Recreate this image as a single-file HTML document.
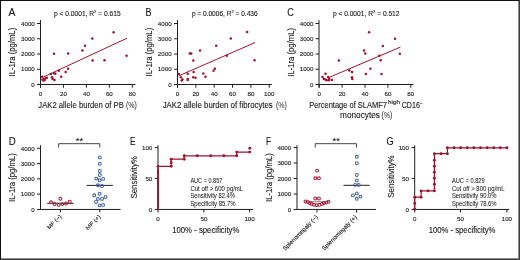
<!DOCTYPE html>
<html><head><meta charset="utf-8"><style>
html,body{margin:0;padding:0;background:#fff;}
body{width:520px;height:260px;overflow:hidden;position:relative;}
svg{position:absolute;left:0;top:0;will-change:transform;}
svg text{font-family:"Liberation Sans", sans-serif;fill:#1a1a1a;stroke:#1a1a1a;stroke-width:0.12px;}
.bt{position:absolute;left:0;top:0;width:520px;height:1px;background:#111;}
.bl{position:absolute;left:0;top:0;width:1px;height:260px;background:#111;}
.br1{position:absolute;left:518px;top:1px;width:1px;height:257px;background:#8c8c8c;}
.br2{position:absolute;left:519px;top:0;width:1px;height:260px;background:#3c3c3c;}
.bb1{position:absolute;left:1px;top:258px;width:518px;height:1px;background:#8c8c8c;}
.bb2{position:absolute;left:0;top:259px;width:520px;height:1px;background:#3c3c3c;}
</style></head><body>
<svg width="520" height="260" viewBox="0 0 520 260">
<text x="8.6" y="15.5" font-size="10.3" text-anchor="start" textLength="6.9" lengthAdjust="spacingAndGlyphs" >A</text>
<text x="54.0" y="15.5" font-size="6.9" text-anchor="start" textLength="66.7" lengthAdjust="spacingAndGlyphs" >p &lt; 0.0001, R<tspan font-size="4.4" dy="-2.9">2</tspan><tspan dy="2.9"> = 0.615</tspan></text>
<line x1="40.5" y1="20.1" x2="40.5" y2="87.7" stroke="#1e1e1e" stroke-width="1.0"/>
<line x1="37.1" y1="23.5" x2="40.5" y2="23.5" stroke="#1e1e1e" stroke-width="1.0"/>
<text x="34.8" y="25.7" font-size="6.2" text-anchor="end" >4000</text>
<line x1="37.1" y1="38.75" x2="40.5" y2="38.75" stroke="#1e1e1e" stroke-width="1.0"/>
<text x="34.8" y="40.95" font-size="6.2" text-anchor="end" >3000</text>
<line x1="37.1" y1="54.0" x2="40.5" y2="54.0" stroke="#1e1e1e" stroke-width="1.0"/>
<text x="34.8" y="56.2" font-size="6.2" text-anchor="end" >2000</text>
<line x1="37.1" y1="69.25" x2="40.5" y2="69.25" stroke="#1e1e1e" stroke-width="1.0"/>
<text x="34.8" y="71.45" font-size="6.2" text-anchor="end" >1000</text>
<line x1="37.1" y1="84.5" x2="40.5" y2="84.5" stroke="#1e1e1e" stroke-width="1.0"/>
<text x="34.8" y="86.7" font-size="6.2" text-anchor="end" >0</text>
<line x1="40.5" y1="84.5" x2="135.4" y2="84.5" stroke="#1e1e1e" stroke-width="1.0"/>
<line x1="40.5" y1="84.5" x2="40.5" y2="87.7" stroke="#1e1e1e" stroke-width="1.0"/>
<text x="40.5" y="96.0" font-size="6.2" text-anchor="middle" >0</text>
<line x1="63.45" y1="84.5" x2="63.45" y2="87.7" stroke="#1e1e1e" stroke-width="1.0"/>
<text x="63.45" y="96.0" font-size="6.2" text-anchor="middle" >20</text>
<line x1="86.4" y1="84.5" x2="86.4" y2="87.7" stroke="#1e1e1e" stroke-width="1.0"/>
<text x="86.4" y="96.0" font-size="6.2" text-anchor="middle" >40</text>
<line x1="109.35" y1="84.5" x2="109.35" y2="87.7" stroke="#1e1e1e" stroke-width="1.0"/>
<text x="109.35" y="96.0" font-size="6.2" text-anchor="middle" >60</text>
<line x1="132.3" y1="84.5" x2="132.3" y2="87.7" stroke="#1e1e1e" stroke-width="1.0"/>
<text x="132.3" y="96.0" font-size="6.2" text-anchor="middle" >80</text>
<text x="38.3" y="107.8" font-size="8.4" text-anchor="start" textLength="85.5" lengthAdjust="spacingAndGlyphs" >JAK2 allele burden of PB</text>
<text x="125.9" y="107.8" font-size="8.4" textLength="10.9" lengthAdjust="spacingAndGlyphs" style="fill:#222;stroke:none">(%)</text>
<text transform="translate(14.9,76.5) rotate(-90)" font-size="8.2" text-anchor="start" textLength="48.7" lengthAdjust="spacingAndGlyphs">IL-1ra (pg/mL)</text>
<line x1="41.8" y1="77.8" x2="127" y2="38.2" stroke="#a0122c" stroke-width="1.0"/>
<circle cx="113.6" cy="32.3" r="1.25" fill="#a0122c"/>
<circle cx="92.3" cy="38.5" r="1.25" fill="#a0122c"/>
<circle cx="85" cy="45.8" r="1.25" fill="#a0122c"/>
<circle cx="82.4" cy="50.6" r="1.25" fill="#a0122c"/>
<circle cx="54" cy="53.8" r="1.25" fill="#a0122c"/>
<circle cx="68.1" cy="53.6" r="1.25" fill="#a0122c"/>
<circle cx="92.6" cy="60.6" r="1.25" fill="#a0122c"/>
<circle cx="104.5" cy="60.3" r="1.25" fill="#a0122c"/>
<circle cx="126.6" cy="55.7" r="1.25" fill="#a0122c"/>
<circle cx="68" cy="68.8" r="1.25" fill="#a0122c"/>
<circle cx="65.6" cy="71.9" r="1.25" fill="#a0122c"/>
<circle cx="58.8" cy="70.8" r="1.25" fill="#a0122c"/>
<circle cx="61.2" cy="76.8" r="1.25" fill="#a0122c"/>
<circle cx="55.3" cy="73.8" r="1.25" fill="#a0122c"/>
<circle cx="54.2" cy="73.2" r="1.25" fill="#a0122c"/>
<circle cx="50.9" cy="74" r="1.25" fill="#a0122c"/>
<circle cx="52" cy="77.3" r="1.25" fill="#a0122c"/>
<circle cx="52.6" cy="78.9" r="1.25" fill="#a0122c"/>
<circle cx="54.5" cy="80" r="1.25" fill="#a0122c"/>
<circle cx="42.1" cy="76.7" r="1.25" fill="#a0122c"/>
<circle cx="43.4" cy="80.5" r="1.25" fill="#a0122c"/>
<circle cx="44.7" cy="80" r="1.25" fill="#a0122c"/>
<circle cx="45.8" cy="78.3" r="1.25" fill="#a0122c"/>
<circle cx="46.8" cy="77.8" r="1.25" fill="#a0122c"/>
<circle cx="44" cy="79" r="1.25" fill="#a0122c"/>
<circle cx="42.5" cy="79.5" r="1.25" fill="#a0122c"/>
<text x="145.5" y="15.5" font-size="10.3" text-anchor="start" textLength="6.0" lengthAdjust="spacingAndGlyphs" >B</text>
<text x="191.9" y="15.5" font-size="6.9" text-anchor="start" textLength="65.7" lengthAdjust="spacingAndGlyphs" >p = 0.0006, R<tspan font-size="4.4" dy="-2.9">2</tspan><tspan dy="2.9"> = 0.436</tspan></text>
<line x1="177.5" y1="20.1" x2="177.5" y2="87.7" stroke="#1e1e1e" stroke-width="1.0"/>
<line x1="174.1" y1="23.5" x2="177.5" y2="23.5" stroke="#1e1e1e" stroke-width="1.0"/>
<text x="171.6" y="25.7" font-size="6.2" text-anchor="end" >4000</text>
<line x1="174.1" y1="38.75" x2="177.5" y2="38.75" stroke="#1e1e1e" stroke-width="1.0"/>
<text x="171.6" y="40.95" font-size="6.2" text-anchor="end" >3000</text>
<line x1="174.1" y1="54.0" x2="177.5" y2="54.0" stroke="#1e1e1e" stroke-width="1.0"/>
<text x="171.6" y="56.2" font-size="6.2" text-anchor="end" >2000</text>
<line x1="174.1" y1="69.25" x2="177.5" y2="69.25" stroke="#1e1e1e" stroke-width="1.0"/>
<text x="171.6" y="71.45" font-size="6.2" text-anchor="end" >1000</text>
<line x1="174.1" y1="84.5" x2="177.5" y2="84.5" stroke="#1e1e1e" stroke-width="1.0"/>
<text x="171.6" y="86.7" font-size="6.2" text-anchor="end" >0</text>
<line x1="177.5" y1="84.5" x2="271.9" y2="84.5" stroke="#1e1e1e" stroke-width="1.0"/>
<line x1="177.5" y1="84.5" x2="177.5" y2="87.7" stroke="#1e1e1e" stroke-width="1.0"/>
<text x="177.5" y="96.0" font-size="6.2" text-anchor="middle" >0</text>
<line x1="195.85" y1="84.5" x2="195.85" y2="87.7" stroke="#1e1e1e" stroke-width="1.0"/>
<text x="195.85" y="96.0" font-size="6.2" text-anchor="middle" >20</text>
<line x1="214.2" y1="84.5" x2="214.2" y2="87.7" stroke="#1e1e1e" stroke-width="1.0"/>
<text x="214.2" y="96.0" font-size="6.2" text-anchor="middle" >40</text>
<line x1="232.55" y1="84.5" x2="232.55" y2="87.7" stroke="#1e1e1e" stroke-width="1.0"/>
<text x="232.55" y="96.0" font-size="6.2" text-anchor="middle" >60</text>
<line x1="250.9" y1="84.5" x2="250.9" y2="87.7" stroke="#1e1e1e" stroke-width="1.0"/>
<text x="250.9" y="96.0" font-size="6.2" text-anchor="middle" >80</text>
<line x1="269.25" y1="84.5" x2="269.25" y2="87.7" stroke="#1e1e1e" stroke-width="1.0"/>
<text x="269.25" y="96.0" font-size="6.2" text-anchor="middle" >100</text>
<text x="162.7" y="107.8" font-size="8.4" text-anchor="start" textLength="110.1" lengthAdjust="spacingAndGlyphs" >JAK2 allele burden of fibrocytes</text>
<text x="275.9" y="107.8" font-size="8.4" textLength="11.0" lengthAdjust="spacingAndGlyphs" style="fill:#222;stroke:none">(%)</text>
<text transform="translate(152.0,76.5) rotate(-90)" font-size="8.2" text-anchor="start" textLength="48.7" lengthAdjust="spacingAndGlyphs">IL-1ra (pg/mL)</text>
<line x1="178.8" y1="75.8" x2="255" y2="42.6" stroke="#a0122c" stroke-width="1.0"/>
<circle cx="247.2" cy="32" r="1.25" fill="#a0122c"/>
<circle cx="230.8" cy="38.5" r="1.25" fill="#a0122c"/>
<circle cx="216.2" cy="45.8" r="1.25" fill="#a0122c"/>
<circle cx="200" cy="50.6" r="1.25" fill="#a0122c"/>
<circle cx="189.8" cy="53.6" r="1.25" fill="#a0122c"/>
<circle cx="191.2" cy="53.6" r="1.25" fill="#a0122c"/>
<circle cx="193.3" cy="60.6" r="1.25" fill="#a0122c"/>
<circle cx="226.8" cy="55.7" r="1.25" fill="#a0122c"/>
<circle cx="254.5" cy="60.3" r="1.25" fill="#a0122c"/>
<circle cx="214.9" cy="68.7" r="1.25" fill="#a0122c"/>
<circle cx="213.5" cy="70.8" r="1.25" fill="#a0122c"/>
<circle cx="203.3" cy="73.5" r="1.25" fill="#a0122c"/>
<circle cx="205.5" cy="76.8" r="1.25" fill="#a0122c"/>
<circle cx="193.6" cy="71.9" r="1.25" fill="#a0122c"/>
<circle cx="193.3" cy="77.3" r="1.25" fill="#a0122c"/>
<circle cx="195.5" cy="77.8" r="1.25" fill="#a0122c"/>
<circle cx="187.7" cy="73.8" r="1.25" fill="#a0122c"/>
<circle cx="187.7" cy="80" r="1.25" fill="#a0122c"/>
<circle cx="182.5" cy="79.5" r="1.25" fill="#a0122c"/>
<circle cx="181.7" cy="80.5" r="1.25" fill="#a0122c"/>
<circle cx="180.9" cy="77.3" r="1.25" fill="#a0122c"/>
<circle cx="178.8" cy="74" r="1.25" fill="#a0122c"/>
<circle cx="187.7" cy="79" r="1.25" fill="#a0122c"/>
<text x="287.3" y="15.5" font-size="10.3" text-anchor="start" textLength="6.6" lengthAdjust="spacingAndGlyphs" >C</text>
<text x="332.9" y="15.5" font-size="6.9" text-anchor="start" textLength="66.6" lengthAdjust="spacingAndGlyphs" >p &lt; 0.0001, R<tspan font-size="4.4" dy="-2.9">2</tspan><tspan dy="2.9"> = 0.512</tspan></text>
<line x1="319.0" y1="20.1" x2="319.0" y2="87.7" stroke="#1e1e1e" stroke-width="1.0"/>
<line x1="315.6" y1="23.5" x2="319.0" y2="23.5" stroke="#1e1e1e" stroke-width="1.0"/>
<text x="313.5" y="25.7" font-size="6.2" text-anchor="end" >4000</text>
<line x1="315.6" y1="38.75" x2="319.0" y2="38.75" stroke="#1e1e1e" stroke-width="1.0"/>
<text x="313.5" y="40.95" font-size="6.2" text-anchor="end" >3000</text>
<line x1="315.6" y1="54.0" x2="319.0" y2="54.0" stroke="#1e1e1e" stroke-width="1.0"/>
<text x="313.5" y="56.2" font-size="6.2" text-anchor="end" >2000</text>
<line x1="315.6" y1="69.25" x2="319.0" y2="69.25" stroke="#1e1e1e" stroke-width="1.0"/>
<text x="313.5" y="71.45" font-size="6.2" text-anchor="end" >1000</text>
<line x1="315.6" y1="84.5" x2="319.0" y2="84.5" stroke="#1e1e1e" stroke-width="1.0"/>
<text x="313.5" y="86.7" font-size="6.2" text-anchor="end" >0</text>
<line x1="319.0" y1="84.5" x2="413.5" y2="84.5" stroke="#1e1e1e" stroke-width="1.0"/>
<line x1="319.2" y1="84.5" x2="319.2" y2="87.7" stroke="#1e1e1e" stroke-width="1.0"/>
<text x="319.2" y="96.0" font-size="6.2" text-anchor="middle" >0</text>
<line x1="342.09999999999997" y1="84.5" x2="342.09999999999997" y2="87.7" stroke="#1e1e1e" stroke-width="1.0"/>
<text x="342.09999999999997" y="96.0" font-size="6.2" text-anchor="middle" >20</text>
<line x1="365.0" y1="84.5" x2="365.0" y2="87.7" stroke="#1e1e1e" stroke-width="1.0"/>
<text x="365.0" y="96.0" font-size="6.2" text-anchor="middle" >40</text>
<line x1="387.9" y1="84.5" x2="387.9" y2="87.7" stroke="#1e1e1e" stroke-width="1.0"/>
<text x="387.9" y="96.0" font-size="6.2" text-anchor="middle" >60</text>
<line x1="410.79999999999995" y1="84.5" x2="410.79999999999995" y2="87.7" stroke="#1e1e1e" stroke-width="1.0"/>
<text x="410.79999999999995" y="96.0" font-size="6.2" text-anchor="middle" >80</text>
<text x="309.2" y="107.8" font-size="8.4" text-anchor="start" textLength="77.7" lengthAdjust="spacingAndGlyphs" >Percentage of SLAMF7</text>
<text x="388.0" y="104.3" font-size="6.2" text-anchor="start" textLength="11.9" lengthAdjust="spacingAndGlyphs" >high</text>
<text x="401.7" y="107.8" font-size="8.4" text-anchor="start" textLength="18.2" lengthAdjust="spacingAndGlyphs" >CD16</text>
<text x="420.2" y="105.3" font-size="5.6" text-anchor="start" textLength="2.2" lengthAdjust="spacingAndGlyphs" >−</text>
<text x="340.1" y="117.5" font-size="8.4" text-anchor="start" textLength="39.8" lengthAdjust="spacingAndGlyphs" >monocytes</text>
<text x="381.6" y="117.5" font-size="8.4" textLength="10.7" lengthAdjust="spacingAndGlyphs" style="fill:#222;stroke:none">(%)</text>
<text transform="translate(293.8,76.7) rotate(-90)" font-size="8.2" text-anchor="start" textLength="48.7" lengthAdjust="spacingAndGlyphs">IL-1ra (pg/mL)</text>
<line x1="328.2" y1="77.8" x2="400.4" y2="47.1" stroke="#a0122c" stroke-width="1.0"/>
<circle cx="369.1" cy="32.3" r="1.25" fill="#a0122c"/>
<circle cx="395" cy="38.8" r="1.25" fill="#a0122c"/>
<circle cx="382.8" cy="46" r="1.25" fill="#a0122c"/>
<circle cx="364" cy="50.6" r="1.25" fill="#a0122c"/>
<circle cx="365.3" cy="53.6" r="1.25" fill="#a0122c"/>
<circle cx="399.8" cy="53.8" r="1.25" fill="#a0122c"/>
<circle cx="379.3" cy="55.7" r="1.25" fill="#a0122c"/>
<circle cx="380.7" cy="60.3" r="1.25" fill="#a0122c"/>
<circle cx="338.9" cy="60.6" r="1.25" fill="#a0122c"/>
<circle cx="370.4" cy="68.7" r="1.25" fill="#a0122c"/>
<circle cx="365.9" cy="74.1" r="1.25" fill="#a0122c"/>
<circle cx="381.5" cy="74.1" r="1.25" fill="#a0122c"/>
<circle cx="349.3" cy="70.5" r="1.25" fill="#a0122c"/>
<circle cx="352" cy="72.1" r="1.25" fill="#a0122c"/>
<circle cx="352" cy="77.3" r="1.25" fill="#a0122c"/>
<circle cx="352.3" cy="78.9" r="1.25" fill="#a0122c"/>
<circle cx="325.5" cy="73.8" r="1.25" fill="#a0122c"/>
<circle cx="322.5" cy="77" r="1.25" fill="#a0122c"/>
<circle cx="323.9" cy="78.9" r="1.25" fill="#a0122c"/>
<circle cx="325.5" cy="79.6" r="1.25" fill="#a0122c"/>
<circle cx="326.6" cy="80.3" r="1.25" fill="#a0122c"/>
<circle cx="328.2" cy="77" r="1.25" fill="#a0122c"/>
<circle cx="328.8" cy="80.3" r="1.25" fill="#a0122c"/>
<circle cx="329.3" cy="78.9" r="1.25" fill="#a0122c"/>
<circle cx="332" cy="80" r="1.25" fill="#a0122c"/>
<text x="8.8" y="144.9" font-size="10.3" text-anchor="start" textLength="7.0" lengthAdjust="spacingAndGlyphs" >D</text>
<line x1="40.5" y1="145.2" x2="40.5" y2="209.45" stroke="#1e1e1e" stroke-width="1.0"/>
<line x1="37.1" y1="148.3" x2="40.5" y2="148.3" stroke="#1e1e1e" stroke-width="1.0"/>
<text x="34.6" y="150.5" font-size="6.2" text-anchor="end" >4000</text>
<line x1="37.1" y1="163.59" x2="40.5" y2="163.59" stroke="#1e1e1e" stroke-width="1.0"/>
<text x="34.6" y="165.79" font-size="6.2" text-anchor="end" >3000</text>
<line x1="37.1" y1="178.88" x2="40.5" y2="178.88" stroke="#1e1e1e" stroke-width="1.0"/>
<text x="34.6" y="181.07999999999998" font-size="6.2" text-anchor="end" >2000</text>
<line x1="37.1" y1="194.17000000000002" x2="40.5" y2="194.17000000000002" stroke="#1e1e1e" stroke-width="1.0"/>
<text x="34.6" y="196.37" font-size="6.2" text-anchor="end" >1000</text>
<line x1="37.1" y1="209.46" x2="40.5" y2="209.46" stroke="#1e1e1e" stroke-width="1.0"/>
<text x="34.6" y="211.66" font-size="6.2" text-anchor="end" >0</text>
<line x1="40.5" y1="209.45" x2="120.5" y2="209.45" stroke="#1e1e1e" stroke-width="1.0"/>
<line x1="60.4" y1="209.45" x2="60.4" y2="212.4" stroke="#1e1e1e" stroke-width="1.0"/>
<line x1="99.8" y1="209.45" x2="99.8" y2="212.4" stroke="#1e1e1e" stroke-width="1.0"/>
<text transform="translate(14.9,202.0) rotate(-90)" font-size="8.2" text-anchor="start" textLength="48.7" lengthAdjust="spacingAndGlyphs">IL-1ra (pg/mL)</text>
<path d="M58.6 147.5 V143.7 H99.8 V147.5" fill="none" stroke="#444" stroke-width="1.0"/>
<text x="79.4" y="144.0" font-size="9.2" text-anchor="middle" >**</text>
<line x1="47.2" y1="203.3" x2="73.7" y2="203.3" stroke="#1e1e1e" stroke-width="1.0"/>
<line x1="86.7" y1="185.4" x2="112.9" y2="185.4" stroke="#1e1e1e" stroke-width="1.0"/>
<circle cx="60.4" cy="198.8" r="1.45" fill="none" stroke="#a8203a" stroke-width="1.05"/>
<circle cx="51.0" cy="202.3" r="1.45" fill="none" stroke="#a8203a" stroke-width="1.05"/>
<circle cx="54.6" cy="204.0" r="1.45" fill="none" stroke="#a8203a" stroke-width="1.05"/>
<circle cx="58.6" cy="204.9" r="1.45" fill="none" stroke="#a8203a" stroke-width="1.05"/>
<circle cx="62.3" cy="204.1" r="1.45" fill="none" stroke="#a8203a" stroke-width="1.05"/>
<circle cx="66.0" cy="203.5" r="1.45" fill="none" stroke="#a8203a" stroke-width="1.05"/>
<circle cx="69.7" cy="201.7" r="1.45" fill="none" stroke="#a8203a" stroke-width="1.05"/>
<circle cx="99.8" cy="157.4" r="1.45" fill="none" stroke="#42639a" stroke-width="1.05"/>
<circle cx="99.8" cy="163.7" r="1.45" fill="none" stroke="#42639a" stroke-width="1.05"/>
<circle cx="99.8" cy="171" r="1.45" fill="none" stroke="#42639a" stroke-width="1.05"/>
<circle cx="99.8" cy="175" r="1.45" fill="none" stroke="#42639a" stroke-width="1.05"/>
<circle cx="96.2" cy="178.6" r="1.45" fill="none" stroke="#42639a" stroke-width="1.05"/>
<circle cx="99.6" cy="180.3" r="1.45" fill="none" stroke="#42639a" stroke-width="1.05"/>
<circle cx="103.1" cy="178.9" r="1.45" fill="none" stroke="#42639a" stroke-width="1.05"/>
<circle cx="97.9" cy="185.3" r="1.45" fill="none" stroke="#42639a" stroke-width="1.05"/>
<circle cx="102" cy="186" r="1.45" fill="none" stroke="#42639a" stroke-width="1.05"/>
<circle cx="99.6" cy="193.7" r="1.45" fill="none" stroke="#42639a" stroke-width="1.05"/>
<circle cx="94.3" cy="195.3" r="1.45" fill="none" stroke="#42639a" stroke-width="1.05"/>
<circle cx="105.5" cy="197" r="1.45" fill="none" stroke="#42639a" stroke-width="1.05"/>
<circle cx="97.9" cy="198.9" r="1.45" fill="none" stroke="#42639a" stroke-width="1.05"/>
<circle cx="102" cy="198.9" r="1.45" fill="none" stroke="#42639a" stroke-width="1.05"/>
<circle cx="96" cy="202" r="1.45" fill="none" stroke="#42639a" stroke-width="1.05"/>
<circle cx="99.6" cy="205.4" r="1.45" fill="none" stroke="#42639a" stroke-width="1.05"/>
<circle cx="103.1" cy="204.9" r="1.45" fill="none" stroke="#42639a" stroke-width="1.05"/>
<text transform="translate(61.8,217.0) rotate(-45)" font-size="5.4" text-anchor="end" textLength="17.6" lengthAdjust="spacingAndGlyphs">MF (−)</text>
<text transform="translate(101.0,217.0) rotate(-45)" font-size="5.4" text-anchor="end" textLength="18.6" lengthAdjust="spacingAndGlyphs">MF (+)</text>
<text x="130.0" y="145.0" font-size="10.3" text-anchor="start" textLength="5.5" lengthAdjust="spacingAndGlyphs" >E</text>
<line x1="158.0" y1="145.2" x2="158.0" y2="209.45" stroke="#1e1e1e" stroke-width="1.0"/>
<line x1="154.8" y1="147.6" x2="158.0" y2="147.6" stroke="#1e1e1e" stroke-width="1.0"/>
<text x="152.3" y="149.79999999999998" font-size="6.2" text-anchor="end" >100</text>
<line x1="154.8" y1="178.4" x2="158.0" y2="178.4" stroke="#1e1e1e" stroke-width="1.0"/>
<text x="152.3" y="180.6" font-size="6.2" text-anchor="end" >50</text>
<line x1="154.8" y1="209.45" x2="158.0" y2="209.45" stroke="#1e1e1e" stroke-width="1.0"/>
<text x="152.3" y="211.64999999999998" font-size="6.2" text-anchor="end" >0</text>
<line x1="158.0" y1="209.45" x2="253.2" y2="209.45" stroke="#1e1e1e" stroke-width="1.0"/>
<line x1="158.0" y1="209.45" x2="158.0" y2="212.4" stroke="#1e1e1e" stroke-width="1.0"/>
<text x="158.0" y="220.9" font-size="6.2" text-anchor="middle" >0</text>
<line x1="203.9" y1="209.45" x2="203.9" y2="212.4" stroke="#1e1e1e" stroke-width="1.0"/>
<text x="203.9" y="220.9" font-size="6.2" text-anchor="middle" >50</text>
<line x1="249.6" y1="209.45" x2="249.6" y2="212.4" stroke="#1e1e1e" stroke-width="1.0"/>
<text x="249.6" y="220.9" font-size="6.2" text-anchor="middle" >100</text>
<text transform="translate(137.3,198.5) rotate(-90)" font-size="8.6" text-anchor="start" textLength="42.3" lengthAdjust="spacingAndGlyphs">Sensitivity%</text>
<text x="172.2" y="232.5" font-size="8.2" text-anchor="start" textLength="67.2" lengthAdjust="spacingAndGlyphs" >100% - specificity%</text>
<path d="M158 209.2 L158 166.3 L171.2 166.3 L171.2 159.2 L184.2 159.2 L184.2 155.8 L236.7 155.8 L236.7 152.1 L249.8 152.1" fill="none" stroke="#a0122c" stroke-width="1.2"/>
<circle cx="171.2" cy="166.3" r="1.45" fill="#a0122c"/>
<circle cx="171.2" cy="162.7" r="1.45" fill="#a0122c"/>
<circle cx="171.2" cy="159.2" r="1.45" fill="#a0122c"/>
<circle cx="184.2" cy="159.2" r="1.45" fill="#a0122c"/>
<circle cx="184.2" cy="155.8" r="1.45" fill="#a0122c"/>
<circle cx="197.3" cy="155.8" r="1.45" fill="#a0122c"/>
<circle cx="210.8" cy="155.8" r="1.45" fill="#a0122c"/>
<circle cx="223.8" cy="155.8" r="1.45" fill="#a0122c"/>
<circle cx="236.7" cy="155.8" r="1.45" fill="#a0122c"/>
<circle cx="236.7" cy="152.1" r="1.45" fill="#a0122c"/>
<circle cx="249.8" cy="152.1" r="1.45" fill="#a0122c"/>
<circle cx="249.8" cy="148.3" r="1.45" fill="#a0122c"/>
<circle cx="158" cy="209.3" r="1.05" fill="#a0122c"/>
<circle cx="158" cy="207.43" r="1.05" fill="#a0122c"/>
<circle cx="158" cy="205.56" r="1.05" fill="#a0122c"/>
<circle cx="158" cy="203.69" r="1.05" fill="#a0122c"/>
<circle cx="158" cy="201.82000000000002" r="1.05" fill="#a0122c"/>
<circle cx="158" cy="199.95000000000002" r="1.05" fill="#a0122c"/>
<circle cx="158" cy="198.08" r="1.05" fill="#a0122c"/>
<circle cx="158" cy="196.21" r="1.05" fill="#a0122c"/>
<circle cx="158" cy="194.34" r="1.05" fill="#a0122c"/>
<circle cx="158" cy="192.47" r="1.05" fill="#a0122c"/>
<circle cx="158" cy="190.60000000000002" r="1.05" fill="#a0122c"/>
<circle cx="158" cy="188.73000000000002" r="1.05" fill="#a0122c"/>
<circle cx="158" cy="186.86" r="1.05" fill="#a0122c"/>
<circle cx="158" cy="184.99" r="1.05" fill="#a0122c"/>
<circle cx="158" cy="183.12" r="1.05" fill="#a0122c"/>
<circle cx="158" cy="181.25" r="1.05" fill="#a0122c"/>
<circle cx="158" cy="179.38" r="1.05" fill="#a0122c"/>
<circle cx="158" cy="177.51000000000002" r="1.05" fill="#a0122c"/>
<circle cx="158" cy="175.64000000000001" r="1.05" fill="#a0122c"/>
<circle cx="158" cy="173.77" r="1.05" fill="#a0122c"/>
<circle cx="158" cy="171.9" r="1.05" fill="#a0122c"/>
<circle cx="158" cy="170.03" r="1.05" fill="#a0122c"/>
<circle cx="158" cy="166.3" r="1.3" fill="#a0122c"/>
<text x="190.4" y="182.9" font-size="6.6" text-anchor="start" textLength="32" lengthAdjust="spacingAndGlyphs" style="stroke-width:0.05px">AUC = 0.857</text>
<text x="190.4" y="190.6" font-size="6.6" text-anchor="start" textLength="52.8" lengthAdjust="spacingAndGlyphs" style="stroke-width:0.05px">Cut off &gt; 600 pg/mL</text>
<text x="190.4" y="198.4" font-size="6.6" text-anchor="start" textLength="44.6" lengthAdjust="spacingAndGlyphs" style="stroke-width:0.05px">Sensitivity 82.4%</text>
<text x="190.4" y="206.0" font-size="6.6" text-anchor="start" textLength="45.1" lengthAdjust="spacingAndGlyphs" style="stroke-width:0.05px">Specificity 85.7%</text>
<text x="265.9" y="144.9" font-size="10.3" text-anchor="start" textLength="5.0" lengthAdjust="spacingAndGlyphs" >F</text>
<line x1="297.0" y1="145.2" x2="297.0" y2="209.45" stroke="#1e1e1e" stroke-width="1.0"/>
<line x1="293.6" y1="147.5" x2="297.0" y2="147.5" stroke="#1e1e1e" stroke-width="1.0"/>
<text x="291.2" y="149.7" font-size="6.2" text-anchor="end" >4000</text>
<line x1="293.6" y1="162.99" x2="297.0" y2="162.99" stroke="#1e1e1e" stroke-width="1.0"/>
<text x="291.2" y="165.19" font-size="6.2" text-anchor="end" >3000</text>
<line x1="293.6" y1="178.48" x2="297.0" y2="178.48" stroke="#1e1e1e" stroke-width="1.0"/>
<text x="291.2" y="180.67999999999998" font-size="6.2" text-anchor="end" >2000</text>
<line x1="293.6" y1="193.97" x2="297.0" y2="193.97" stroke="#1e1e1e" stroke-width="1.0"/>
<text x="291.2" y="196.17" font-size="6.2" text-anchor="end" >1000</text>
<line x1="293.6" y1="209.46" x2="297.0" y2="209.46" stroke="#1e1e1e" stroke-width="1.0"/>
<text x="291.2" y="211.66" font-size="6.2" text-anchor="end" >0</text>
<line x1="297.0" y1="209.45" x2="376" y2="209.45" stroke="#1e1e1e" stroke-width="1.0"/>
<line x1="317" y1="209.4" x2="317" y2="212.6" stroke="#1e1e1e" stroke-width="1.0"/>
<line x1="356.6" y1="209.4" x2="356.6" y2="212.6" stroke="#1e1e1e" stroke-width="1.0"/>
<text transform="translate(271.9,202.0) rotate(-90)" font-size="8.2" text-anchor="start" textLength="48.7" lengthAdjust="spacingAndGlyphs">IL-1ra (pg/mL)</text>
<path d="M315.2 147.5 V143.7 H356.5 V147.5" fill="none" stroke="#444" stroke-width="1.0"/>
<text x="336.2" y="144.0" font-size="9.2" text-anchor="middle" >**</text>
<line x1="305" y1="201.7" x2="329.4" y2="201.7" stroke="#8a8a8c" stroke-width="1.0"/>
<line x1="343.5" y1="185.3" x2="369.5" y2="185.3" stroke="#1e1e1e" stroke-width="1.0"/>
<circle cx="317.1" cy="170.6" r="1.45" fill="none" stroke="#a8203a" stroke-width="1.05"/>
<circle cx="315.3" cy="178.3" r="1.45" fill="none" stroke="#a8203a" stroke-width="1.05"/>
<circle cx="318.9" cy="178.3" r="1.45" fill="none" stroke="#a8203a" stroke-width="1.05"/>
<circle cx="315.3" cy="198.5" r="1.45" fill="none" stroke="#a8203a" stroke-width="1.05"/>
<circle cx="318.9" cy="198.5" r="1.45" fill="none" stroke="#a8203a" stroke-width="1.05"/>
<circle cx="305.5" cy="201.5" r="1.45" fill="none" stroke="#a8203a" stroke-width="1.05"/>
<circle cx="308" cy="202.1" r="1.45" fill="none" stroke="#a8203a" stroke-width="1.05"/>
<circle cx="309.8" cy="203" r="1.45" fill="none" stroke="#a8203a" stroke-width="1.05"/>
<circle cx="311.6" cy="203.9" r="1.45" fill="none" stroke="#a8203a" stroke-width="1.05"/>
<circle cx="314" cy="204.8" r="1.45" fill="none" stroke="#a8203a" stroke-width="1.05"/>
<circle cx="316.7" cy="205.1" r="1.45" fill="none" stroke="#a8203a" stroke-width="1.05"/>
<circle cx="319.4" cy="204.8" r="1.45" fill="none" stroke="#a8203a" stroke-width="1.05"/>
<circle cx="322.1" cy="203.9" r="1.45" fill="none" stroke="#a8203a" stroke-width="1.05"/>
<circle cx="324" cy="203" r="1.45" fill="none" stroke="#a8203a" stroke-width="1.05"/>
<circle cx="326.1" cy="202.6" r="1.45" fill="none" stroke="#a8203a" stroke-width="1.05"/>
<circle cx="328.5" cy="201.7" r="1.45" fill="none" stroke="#a8203a" stroke-width="1.05"/>
<circle cx="356.8" cy="156.8" r="1.45" fill="none" stroke="#42639a" stroke-width="1.05"/>
<circle cx="356.8" cy="163.2" r="1.45" fill="none" stroke="#42639a" stroke-width="1.05"/>
<circle cx="356.8" cy="175" r="1.45" fill="none" stroke="#42639a" stroke-width="1.05"/>
<circle cx="356.8" cy="180.4" r="1.45" fill="none" stroke="#42639a" stroke-width="1.05"/>
<circle cx="355.2" cy="184.9" r="1.45" fill="none" stroke="#42639a" stroke-width="1.05"/>
<circle cx="358.7" cy="184.9" r="1.45" fill="none" stroke="#42639a" stroke-width="1.05"/>
<circle cx="356.8" cy="193.4" r="1.45" fill="none" stroke="#42639a" stroke-width="1.05"/>
<circle cx="352.9" cy="195.4" r="1.45" fill="none" stroke="#42639a" stroke-width="1.05"/>
<circle cx="360.5" cy="196.6" r="1.45" fill="none" stroke="#42639a" stroke-width="1.05"/>
<circle cx="356.8" cy="198.8" r="1.45" fill="none" stroke="#42639a" stroke-width="1.05"/>
<text transform="translate(318.3,217.7) rotate(-45)" font-size="5.9" text-anchor="end" textLength="46.9" lengthAdjust="spacingAndGlyphs">Splenomegaly (−)</text>
<text transform="translate(357.4,217.7) rotate(-45)" font-size="5.9" text-anchor="end" textLength="46.9" lengthAdjust="spacingAndGlyphs">Splenomegaly (+)</text>
<text x="386.4" y="144.9" font-size="10.3" text-anchor="start" textLength="7.2" lengthAdjust="spacingAndGlyphs" >G</text>
<line x1="414.7" y1="145.2" x2="414.7" y2="209.45" stroke="#1e1e1e" stroke-width="1.0"/>
<line x1="411.5" y1="147.6" x2="414.7" y2="147.6" stroke="#1e1e1e" stroke-width="1.0"/>
<text x="409.0" y="149.79999999999998" font-size="6.2" text-anchor="end" >100</text>
<line x1="411.5" y1="178.4" x2="414.7" y2="178.4" stroke="#1e1e1e" stroke-width="1.0"/>
<text x="409.0" y="180.6" font-size="6.2" text-anchor="end" >50</text>
<line x1="411.5" y1="209.45" x2="414.7" y2="209.45" stroke="#1e1e1e" stroke-width="1.0"/>
<text x="409.0" y="211.64999999999998" font-size="6.2" text-anchor="end" >0</text>
<line x1="414.7" y1="209.45" x2="509.2" y2="209.45" stroke="#1e1e1e" stroke-width="1.0"/>
<line x1="414.7" y1="209.45" x2="414.7" y2="212.4" stroke="#1e1e1e" stroke-width="1.0"/>
<text x="414.7" y="220.9" font-size="6.2" text-anchor="middle" >0</text>
<line x1="460.5" y1="209.45" x2="460.5" y2="212.4" stroke="#1e1e1e" stroke-width="1.0"/>
<text x="460.5" y="220.9" font-size="6.2" text-anchor="middle" >50</text>
<line x1="506.9" y1="209.45" x2="506.9" y2="212.4" stroke="#1e1e1e" stroke-width="1.0"/>
<text x="506.9" y="220.9" font-size="6.2" text-anchor="middle" >100</text>
<text transform="translate(393.5,197.7) rotate(-90)" font-size="8.6" text-anchor="start" textLength="42.3" lengthAdjust="spacingAndGlyphs">Sensitivity%</text>
<text x="428.7" y="232.5" font-size="8.2" text-anchor="start" textLength="66.8" lengthAdjust="spacingAndGlyphs" >100% - specificity%</text>
<path d="M414.7 209.2 L414.7 197.2 L421.1 197.2 L421.1 190.9 L434.4 190.9 L434.4 153.7 L447.4 153.7 L447.4 147.8 L507 147.8" fill="none" stroke="#a0122c" stroke-width="1.2"/>
<circle cx="414.7" cy="209.2" r="1.45" fill="#a0122c"/>
<circle cx="414.7" cy="203.4" r="1.45" fill="#a0122c"/>
<circle cx="414.7" cy="197.2" r="1.45" fill="#a0122c"/>
<circle cx="421.1" cy="197.2" r="1.45" fill="#a0122c"/>
<circle cx="421.1" cy="190.9" r="1.45" fill="#a0122c"/>
<circle cx="428" cy="190.9" r="1.45" fill="#a0122c"/>
<circle cx="434.4" cy="190.9" r="1.45" fill="#a0122c"/>
<circle cx="434.4" cy="184.3" r="1.45" fill="#a0122c"/>
<circle cx="434.4" cy="178.2" r="1.45" fill="#a0122c"/>
<circle cx="434.4" cy="172.3" r="1.45" fill="#a0122c"/>
<circle cx="434.4" cy="166.3" r="1.45" fill="#a0122c"/>
<circle cx="434.4" cy="160.2" r="1.45" fill="#a0122c"/>
<circle cx="434.4" cy="153.7" r="1.45" fill="#a0122c"/>
<circle cx="441" cy="153.7" r="1.45" fill="#a0122c"/>
<circle cx="447.4" cy="153.7" r="1.45" fill="#a0122c"/>
<circle cx="447.4" cy="147.8" r="1.45" fill="#a0122c"/>
<circle cx="454.02" cy="147.8" r="1.45" fill="#a0122c"/>
<circle cx="460.64" cy="147.8" r="1.45" fill="#a0122c"/>
<circle cx="467.26" cy="147.8" r="1.45" fill="#a0122c"/>
<circle cx="473.88" cy="147.8" r="1.45" fill="#a0122c"/>
<circle cx="480.5" cy="147.8" r="1.45" fill="#a0122c"/>
<circle cx="487.12" cy="147.8" r="1.45" fill="#a0122c"/>
<circle cx="493.74" cy="147.8" r="1.45" fill="#a0122c"/>
<circle cx="500.35999999999996" cy="147.8" r="1.45" fill="#a0122c"/>
<circle cx="506.97999999999996" cy="147.8" r="1.45" fill="#a0122c"/>
<text x="451.9" y="182.9" font-size="6.6" text-anchor="start" textLength="32.8" lengthAdjust="spacingAndGlyphs" style="stroke-width:0.05px">AUC = 0.829</text>
<text x="451.9" y="190.6" font-size="6.6" text-anchor="start" textLength="52.8" lengthAdjust="spacingAndGlyphs" style="stroke-width:0.05px">Cut off &gt; 800 pg/mL</text>
<text x="451.9" y="198.4" font-size="6.6" text-anchor="start" textLength="44.6" lengthAdjust="spacingAndGlyphs" style="stroke-width:0.05px">Sensitivity 90.0%</text>
<text x="451.9" y="206.0" font-size="6.6" text-anchor="start" textLength="44.6" lengthAdjust="spacingAndGlyphs" style="stroke-width:0.05px">Specificity 78.6%</text>
</svg>
<div class="bt"></div><div class="bl"></div><div class="br1"></div><div class="br2"></div><div class="bb1"></div><div class="bb2"></div>
</body></html>
